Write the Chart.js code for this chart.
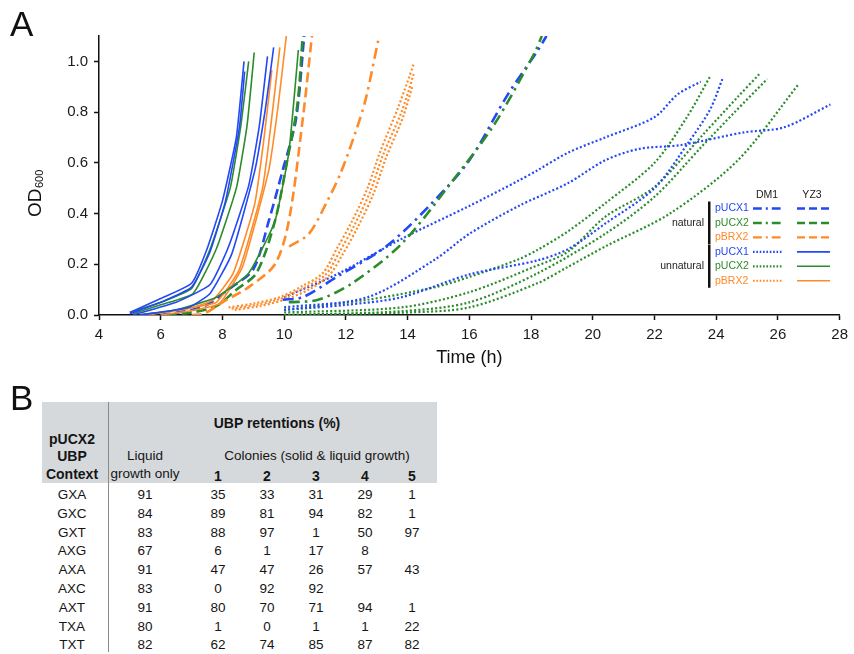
<!DOCTYPE html>
<html><head><meta charset="utf-8">
<script src="https://cdn.jsdelivr.net/npm/chart.js@4"></script>
<style>
html,body{margin:0;padding:0;background:#fff;width:854px;height:654px;overflow:hidden;font-family:"Liberation Sans",Arial,Helvetica,sans-serif;}
#wrap{position:absolute;left:0;top:0;width:854px;height:375px;}
.lbl{position:absolute;font-size:35px;line-height:35px;color:#111;}
.cell{position:absolute;width:300px;text-align:center;font-size:13.5px;line-height:16px;color:#151515;white-space:nowrap;}
.b{font-weight:bold;font-size:14px;}
#hdr{position:absolute;left:42px;top:402px;width:395px;height:81px;background:#d5d9db;}
#sep{position:absolute;left:108px;top:402px;width:1px;height:250px;background:#8a8a8a;}
</style></head>
<body>
<div id="wrap"><canvas id="c" width="854" height="375"></canvas></div>
<div class="lbl" style="left:10px;top:6px">A</div>
<div id="hdr"></div><div id="sep"></div>
<div class="lbl" style="left:10px;top:380px">B</div>
<div id="table"></div>
<script>
// ---------- Panel A data: [time (h), OD600] ----------
// YZ3, unnatural (solid)
const yz3_unnat_pUCX1_r1 = [[5.0,0.01],[6.0,0.065],[7.0,0.125],[7.5,0.26],[8.0,0.45],[8.45,0.7],[8.7,1.0]];
const yz3_unnat_pUCX1_r2 = [[5.0,0.005],[6.0,0.05],[7.0,0.11],[7.6,0.25],[8.1,0.45],[8.55,0.74],[8.72,0.96]];
const yz3_unnat_pUCX1_r3 = [[5.1,0.0],[6.5,0.05],[7.6,0.12],[8.2,0.27],[8.85,0.51],[9.2,0.75],[9.46,1.02]];
const yz3_unnat_pUCX1_r4 = [[5.3,0.0],[6.9,0.03],[7.6,0.085],[8.3,0.24],[9.05,0.57],[9.4,0.82],[9.66,1.055]];
const yz3_unnat_pUCX2_r1 = [[5.0,0.01],[6.0,0.05],[7.0,0.105],[7.6,0.26],[8.25,0.5],[8.6,0.75],[8.85,1.0]];
const yz3_unnat_pUCX2_r2 = [[5.1,0.005],[6.0,0.04],[7.05,0.085],[7.8,0.26],[8.45,0.5],[8.8,0.75],[9.03,1.035]];
const yz3_unnat_pUCX2_r3 = [[5.3,0.0],[6.5,0.02],[7.8,0.07],[8.85,0.165],[9.7,0.37],[10.15,0.64],[10.46,1.045]];
const yz3_unnat_pBRX2_r1 = [[5.3,0.0],[6.9,0.025],[7.7,0.06],[8.35,0.165],[9.05,0.44],[9.35,0.7],[9.6,0.965]];
const yz3_unnat_pBRX2_r2 = [[5.6,0.0],[7.0,0.03],[7.8,0.05],[8.55,0.18],[9.3,0.5],[9.6,0.78],[9.86,1.055]];
const yz3_unnat_pBRX2_r3 = [[6.0,0.0],[7.1,0.02],[7.9,0.045],[8.65,0.19],[9.5,0.57],[9.8,0.82],[10.07,1.1]];
// YZ3, natural (dashed)
const yz3_nat_pUCX1 = [[6.0,0.0],[7.0,0.02],[7.5,0.04],[8.3,0.11],[9.0,0.18],[9.5,0.37],[9.95,0.57],[10.38,0.77],[10.65,1.1]];
const yz3_nat_pUCX2 = [[6.2,0.0],[7.0,0.01],[7.8,0.035],[8.45,0.1],[9.1,0.165],[9.7,0.37],[10.1,0.61],[10.43,0.83],[10.6,1.1]];
const yz3_nat_pBRX2 = [[7.0,0.0],[7.4,0.005],[8.0,0.05],[8.85,0.11],[9.7,0.2],[10.15,0.37],[10.6,0.77],[10.9,1.1]];
// DM1, natural (dash-dot)
const dm1_nat_pUCX1 = [[9.95,0.06],[10.6,0.07],[11.7,0.15],[13.3,0.27],[14.7,0.43],[16.0,0.61],[17.25,0.87],[18.2,1.04],[18.5,1.1]];
const dm1_nat_pUCX2 = [[10.15,0.05],[11.1,0.06],[12.2,0.125],[13.8,0.28],[15.4,0.52],[16.8,0.75],[18.1,1.03],[18.35,1.1]];
const dm1_nat_pBRX2 = [[10.16,0.27],[10.8,0.32],[11.4,0.45],[11.83,0.56],[12.31,0.72],[12.64,0.85],[13.06,1.09]];
// DM1, unnatural (dotted)
const dm1_unnat_pBRX2_r1 = [[8.2,0.03],[9.0,0.045],[9.85,0.07],[10.6,0.115],[11.25,0.165],[11.7,0.26],[12.2,0.37],[12.7,0.5],[13.1,0.64],[13.7,0.82],[14.2,0.99]];
const dm1_unnat_pBRX2_r2 = [[8.3,0.025],[9.1,0.04],[9.9,0.065],[10.7,0.11],[11.35,0.16],[11.8,0.25],[12.3,0.36],[12.8,0.49],[13.2,0.63],[13.8,0.8],[14.2,0.95]];
const dm1_unnat_pBRX2_r3 = [[8.4,0.02],[9.2,0.035],[10.0,0.06],[10.8,0.1],[11.45,0.155],[11.9,0.24],[12.4,0.35],[12.9,0.48],[13.3,0.62],[13.85,0.78],[14.15,0.9]];
const dm1_unnat_pUCX1_r1 = [[10.0,0.07],[11.7,0.16],[13.8,0.30],[16.0,0.43],[17.6,0.53],[18.2,0.57],[19.2,0.64],[20.4,0.70],[22.0,0.78],[22.75,0.87],[23.5,0.92]];
const dm1_unnat_pUCX1_r2 = [[10.0,0.03],[12.7,0.07],[14.9,0.22],[16.0,0.32],[17.6,0.43],[19.2,0.52],[20.4,0.61],[21.5,0.655],[22.85,0.67],[24.9,0.72],[26.2,0.74],[27.7,0.83]];
const dm1_unnat_pUCX1_r3 = [[10.0,0.02],[12.0,0.04],[13.8,0.07],[16.0,0.16],[18.2,0.215],[19.2,0.26],[20.4,0.36],[22.0,0.5],[23.1,0.68],[23.8,0.81],[24.2,0.93]];
const dm1_unnat_pUCX2_r1 = [[10.0,0.02],[12.7,0.06],[14.9,0.11],[16.0,0.15],[17.6,0.22],[18.2,0.256],[19.2,0.33],[20.4,0.44],[22.0,0.6],[23.05,0.78],[23.8,0.94]];
const dm1_unnat_pUCX2_r2 = [[10.0,0.01],[13.8,0.03],[16.0,0.09],[18.1,0.19],[19.2,0.25],[20.4,0.387],[22.0,0.505],[23.6,0.715],[24.7,0.86],[25.4,0.95]];
const dm1_unnat_pUCX2_r3 = [[10.0,0.0],[13.8,0.015],[16.0,0.05],[18.2,0.164],[20.4,0.32],[22.0,0.466],[23.5,0.66],[24.6,0.8],[25.65,0.93]];
const dm1_unnat_pUCX2_r4 = [[10.0,0.0],[14.0,0.01],[16.0,0.03],[18.2,0.125],[19.2,0.19],[20.4,0.27],[22.5,0.40],[24.7,0.61],[26.67,0.91]];

const xTickValues = [4,6,8,10,12,14,16,18,20,22,24,26,28];
const yTickValues = [0.0,0.2,0.4,0.6,0.8,1.0];

// legend labels
const legendPlasmids = ['pUCX1','pUCX2','pBRX2'];
const legendGroups = ['natural','unnatural'];
const legendStrains = ['DM1','YZ3'];

// ---------- Panel B data ----------
const ubpContexts = ['GXA','GXC','GXT','AXG','AXA','AXC','AXT','TXA','TXT'];
const liquidOnly = [91,84,83,67,91,83,91,80,82];
const colony1 = [35,89,88,6,47,0,80,1,62];
const colony2 = [33,81,97,1,47,92,70,0,74];
const colony3 = [31,94,1,17,26,92,71,1,85];
const colony4 = [29,82,50,8,57,null,94,1,87];
const colony5 = [1,1,97,null,43,null,1,22,82];

// ---------- styles ----------
const BLUE = '#2348f5', GREEN = '#2a8c2a', ORANGE = '#ff8a28';
const plasmidColors = [BLUE, GREEN, ORANGE];
const STYLES = {
  solid:   {dash: [], width: 1.6},
  dashed:  {dash: [10,5], width: 2.6},
  dashdot: {dash: [11,5,2.5,5], width: 2.6},
  dotted:  {dash: [2,2.2], width: 2.2}
};

const seriesList = [
  [dm1_unnat_pUCX2_r1, GREEN, 'dotted'],
  [dm1_unnat_pUCX2_r2, GREEN, 'dotted'],
  [dm1_unnat_pUCX2_r3, GREEN, 'dotted'],
  [dm1_unnat_pUCX2_r4, GREEN, 'dotted'],
  [dm1_unnat_pUCX1_r1, BLUE, 'dotted'],
  [dm1_unnat_pUCX1_r2, BLUE, 'dotted'],
  [dm1_unnat_pUCX1_r3, BLUE, 'dotted'],
  [dm1_unnat_pBRX2_r1, ORANGE, 'dotted'],
  [dm1_unnat_pBRX2_r2, ORANGE, 'dotted'],
  [dm1_unnat_pBRX2_r3, ORANGE, 'dotted'],
  [dm1_nat_pUCX1, BLUE, 'dashdot'],
  [dm1_nat_pUCX2, GREEN, 'dashdot'],
  [dm1_nat_pBRX2, ORANGE, 'dashdot'],
  [yz3_nat_pUCX1, BLUE, 'dashed'],
  [yz3_nat_pUCX2, GREEN, 'dashed'],
  [yz3_nat_pBRX2, ORANGE, 'dashed'],
  [yz3_unnat_pBRX2_r1, ORANGE, 'solid'],
  [yz3_unnat_pBRX2_r2, ORANGE, 'solid'],
  [yz3_unnat_pBRX2_r3, ORANGE, 'solid'],
  [yz3_unnat_pUCX2_r1, GREEN, 'solid'],
  [yz3_unnat_pUCX2_r2, GREEN, 'solid'],
  [yz3_unnat_pUCX2_r3, GREEN, 'solid'],
  [yz3_unnat_pUCX1_r1, BLUE, 'solid'],
  [yz3_unnat_pUCX1_r2, BLUE, 'solid'],
  [yz3_unnat_pUCX1_r3, BLUE, 'solid'],
  [yz3_unnat_pUCX1_r4, BLUE, 'solid']
];

const datasets = seriesList.map(([pts, color, st]) => ({
  data: pts.map(p => ({x: p[0], y: p[1]})),
  borderColor: color,
  borderWidth: STYLES[st].width,
  borderDash: STYLES[st].dash,
  borderCapStyle: 'butt',
  pointRadius: 0,
  fill: false,
  tension: st === 'solid' ? 0.15 : 0.3
})).reverse();

const FONT = '"Liberation Sans", Arial, Helvetica, sans-serif';

const yTitlePlugin = {
  id: 'yTitle',
  afterDraw(chart) {
    const ctx = chart.ctx;
    ctx.save();
    ctx.translate(41, 217);
    ctx.rotate(-Math.PI / 2);
    ctx.fillStyle = '#111';
    ctx.textAlign = 'left';
    ctx.textBaseline = 'alphabetic';
    ctx.font = '19px ' + FONT;
    ctx.fillText('OD', 0, 0);
    const w = ctx.measureText('OD').width;
    ctx.font = '11px ' + FONT;
    ctx.fillText('600', w + 0.5, 2);
    ctx.restore();
  }
};

const legendPlugin = {
  id: 'customLegend',
  afterDraw(chart) {
    const ctx = chart.ctx;
    ctx.save();
    ctx.font = '10.5px ' + FONT;
    ctx.textBaseline = 'middle';
    ctx.fillStyle = '#222';
    ctx.textAlign = 'center';
    ctx.fillText(legendStrains[0], 767, 195);
    ctx.fillText(legendStrains[1], 812, 195);
    const rowY0 = 208.5, rowStep = 14.45;
    const grpStyles = [['dashdot','dashed'], ['dotted','solid']];
    legendGroups.forEach((g, gi) => {
      const y0 = rowY0 + gi * 3 * rowStep;
      ctx.fillStyle = '#222';
      ctx.textAlign = 'right';
      ctx.fillText(g, 704, y0 + rowStep);
      ctx.fillStyle = '#111';
      ctx.fillRect(708, y0 - 7, 2.5, rowStep * 2 + 14);
      legendPlasmids.forEach((p, pi) => {
        const y = y0 + pi * rowStep;
        ctx.fillStyle = plasmidColors[pi];
        ctx.textAlign = 'left';
        ctx.fillText(p, 715, y);
        [[753, 783], [797, 830]].forEach((seg, si) => {
          const st = STYLES[grpStyles[gi][si]];
          ctx.beginPath();
          ctx.strokeStyle = plasmidColors[pi];
          ctx.lineWidth = Math.min(st.width, 2.4);
          ctx.setLineDash(st.dash.map(d => d * 0.8));
          ctx.moveTo(seg[0], y);
          ctx.lineTo(seg[1], y);
          ctx.stroke();
        });
      });
    });
    ctx.restore();
  }
};

new Chart(document.getElementById('c'), {
  type: 'line',
  data: {datasets},
  options: {
    responsive: false,
    animation: false,
    events: [],
    layout: {padding: {top: 36, right: 11, bottom: 0, left: 0}},
    plugins: {legend: {display: false}, tooltip: {enabled: false}},
    scales: {
      x: {
        type: 'linear', min: 4, max: 28,
        afterBuildTicks: s => { s.ticks = xTickValues.map(v => ({value: v})); },
        afterFit: s => { s.height = 60; },
        ticks: {font: {family: FONT, size: 15, lineHeight: 1.2}, color: '#1a1a1a', padding: 6, maxRotation: 0,
                callback: v => String(v)},
        grid: {display: true, drawOnChartArea: false, drawTicks: true, tickLength: 5, tickWidth: 1.5, tickColor: '#111'},
        border: {display: true, color: '#111', width: 1.5},
        title: {display: true, text: 'Time (h)', font: {family: FONT, size: 18, lineHeight: 1.2}, color: '#111', padding: {top: 0, bottom: 6}}
      },
      y: {
        type: 'linear', min: 0, max: 1.1,
        afterBuildTicks: s => { s.ticks = yTickValues.map(v => ({value: v})); },
        afterFit: s => { s.width = 99; },
        ticks: {font: {family: FONT, size: 15}, color: '#1a1a1a', padding: 6,
                callback: v => Number(v).toFixed(1)},
        grid: {display: true, drawOnChartArea: false, drawTicks: true, tickLength: 5, tickWidth: 1.5, tickColor: '#111'},
        border: {display: true, color: '#111', width: 1.5}
      }
    }
  },
  plugins: [yTitlePlugin, legendPlugin]
});

// ---------- Panel B table ----------
const tbl = document.getElementById('table');
function cell(text, cx, cy, bold) {
  const d = document.createElement('div');
  d.className = 'cell' + (bold ? ' b' : '');
  d.style.left = (cx - 150) + 'px';
  d.style.top = (cy - 8) + 'px';
  d.textContent = text;
  tbl.appendChild(d);
}
const colX = [72, 145, 218, 267, 316, 365, 412];
cell('UBP retentions (%)', 277, 423, true);
cell('pUCX2', colX[0], 439, true);
cell('UBP', colX[0], 456, true);
cell('Context', colX[0], 474, true);
cell('Liquid', colX[1], 456, false);
cell('growth only', colX[1], 474, false);
cell('Colonies (solid & liquid growth)', 317, 456, false);
['1','2','3','4','5'].forEach((t, i) => cell(t, colX[2 + i], 476, true));
const cols = [ubpContexts, liquidOnly, colony1, colony2, colony3, colony4, colony5];
ubpContexts.forEach((_, r) => {
  const y = 495 + r * 18.8;
  cols.forEach((col, c) => {
    const v = col[r];
    if (v !== null && v !== undefined) cell(String(v), colX[c], y, false);
  });
});
</script>
</body></html>
